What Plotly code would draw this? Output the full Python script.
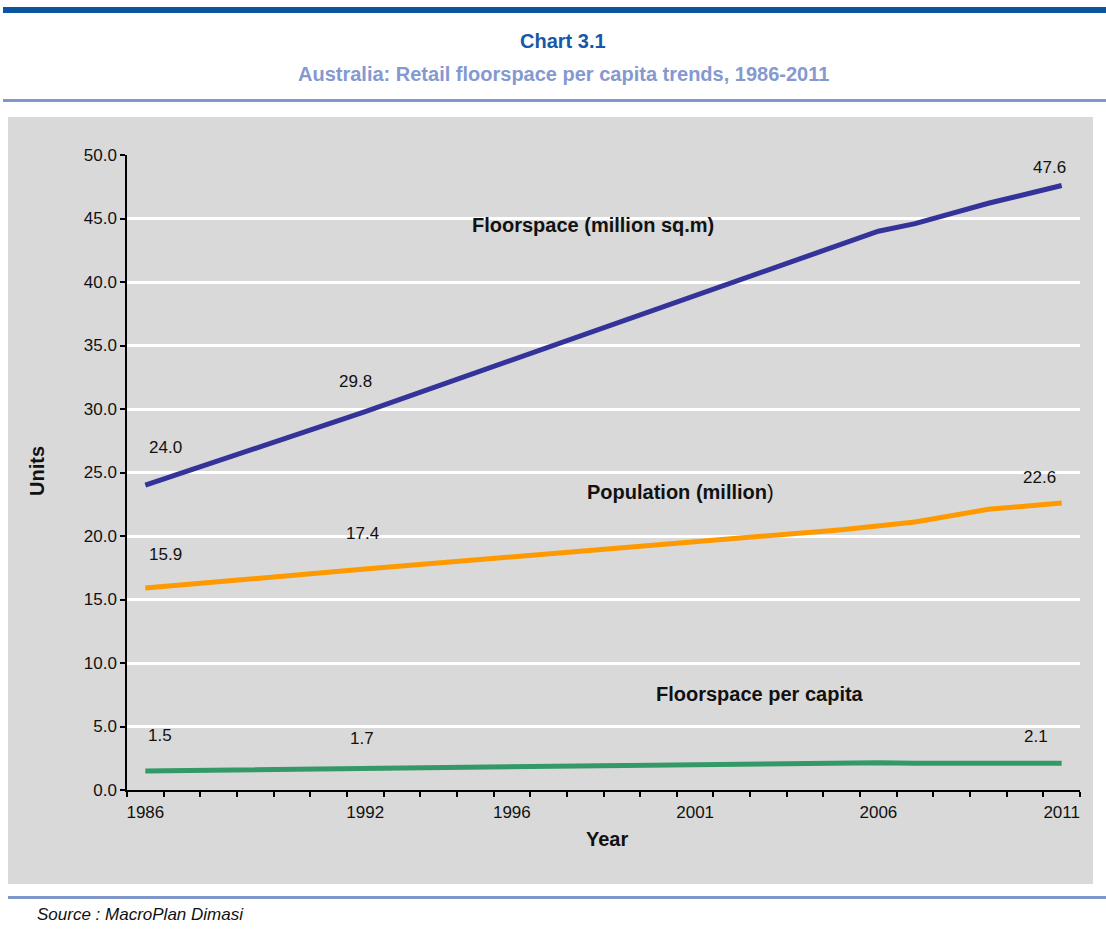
import plotly.graph_objects as go

# ---- data -------------------------------------------------------------
floor_years = [1986, 1992, 2006, 2007, 2009, 2011]
floorspace = [24.0, 29.8, 44.0, 44.6, 46.2, 47.6]          # million sq.m

pop_years = [1986, 1992, 2005, 2007, 2009, 2011]
population = [15.9, 17.4, 20.5, 21.1, 22.1, 22.6]          # million

pc_years = [1986, 1992, 2006, 2007, 2011]
per_capita = [1.5, 1.7, 2.15, 2.1, 2.1]                    # sq.m per person

label_years = [1986, 1992, 2011]
tick_years = [1986, 1992, 1996, 2001, 2006, 2011]
first_year, last_year = 1986, 2011

# ---- styling ----------------------------------------------------------
FONT = "Arial, 'Liberation Sans', sans-serif"
GREY = "#D9D9D9"
INK = "#111111"
W, H = 1106, 938
PL, PR, PT, PB = 127, 1080, 155, 790      # plot-area pixel box
BOLD_SIZE, TEXT_SIZE = 20, 17

series = [
    dict(name="Floorspace (million sq.m)", x=floor_years, y=floorspace, color="#333399",
         shifts=[(20, 38), (-10, 30), (-12, 18)],
         tag="<b>Floorspace (million sq.m)</b>", tag_px=(593, 225)),
    dict(name="Population (million)", x=pop_years, y=population, color="#FF9900",
         shifts=[(20, 34), (-3, 36), (-22, 25)],
         tag="<b>Population (million</b>)", tag_px=(680, 492)),
    dict(name="Floorspace per capita", x=pc_years, y=per_capita, color="#339966",
         shifts=[(15, 35), (-3, 30), (-26, 27)],
         tag="<b>Floorspace per capita</b>", tag_px=(760, 694)),
]


def px_x(px):
    return (px - PL) / (PR - PL)


def px_y(py):
    return (PB - py) / (PB - PT)


def note(px, py, text, size=BOLD_SIZE, color=INK, xanchor="center", **kw):
    return dict(x=px_x(px), y=px_y(py), xref="paper", yref="paper", text=text,
                showarrow=False, xanchor=xanchor, yanchor="middle",
                font=dict(family=FONT, size=size, color=color), **kw)


fig = go.Figure()
annotations = []

for s in series:
    fig.add_trace(go.Scatter(
        x=s["x"], y=s["y"], mode="lines", name=s["name"],
        line=dict(color=s["color"], width=5), showlegend=False,
        hoverinfo="x+y",
    ))
    for yr, (dx, dy) in zip(label_years, s["shifts"]):
        v = s["y"][s["x"].index(yr)]
        annotations.append(dict(
            x=yr, y=v, xref="x", yref="y", text=f"{v:.1f}", showarrow=False,
            xanchor="center", yanchor="middle",
            xshift=dx, yshift=dy, font=dict(family=FONT, size=TEXT_SIZE, color=INK),
        ))
    annotations.append(note(*s["tag_px"], s["tag"]))

# titles, axis captions and source line
annotations += [
    note(563, 41, "<b>Chart 3.1</b>", color="#1559A8"),
    note(563, 74, "<b>Australia: Retail floorspace per capita trends, 1986-2011</b>",
         color="#8599D0"),
    note(37, 471, "<b>Units</b>", textangle=-90),
    note(607, 839, "<b>Year</b>"),
    note(35, 914, "<i>Source : MacroPlan Dimasi</i>", size=TEXT_SIZE, xanchor="left"),
]

shapes = [
    # grey panel behind the chart
    dict(type="rect", xref="paper", yref="paper", x0=px_x(8), x1=px_x(1093),
         y0=px_y(884), y1=px_y(117), fillcolor=GREY, line_width=0, layer="below"),
    # header rules
    dict(type="rect", xref="paper", yref="paper", x0=px_x(3), x1=px_x(W),
         y0=px_y(13), y1=px_y(7), fillcolor="#0B55A0", line_width=0),
    dict(type="rect", xref="paper", yref="paper", x0=px_x(3), x1=px_x(W),
         y0=px_y(102), y1=px_y(99), fillcolor="#7F97CC", line_width=0),
    # footer rule
    dict(type="rect", xref="paper", yref="paper", x0=px_x(8), x1=px_x(W),
         y0=px_y(899), y1=px_y(896), fillcolor="#7F97CC", line_width=0),
]

fig.update_layout(
    width=W, height=H,
    margin=dict(l=PL, r=W - PR, t=PT, b=H - PB, pad=0),
    paper_bgcolor="white", plot_bgcolor=GREY,
    font=dict(family=FONT, size=TEXT_SIZE, color=INK),
    annotations=annotations, shapes=shapes,
    showlegend=False,
)

fig.update_xaxes(
    range=[first_year - 0.5, last_year + 0.5],
    tickvals=tick_years, ticktext=[str(y) for y in tick_years],
    ticks="outside", ticklen=6, tickcolor="rgba(0,0,0,0)",
    tickfont=dict(family=FONT, size=TEXT_SIZE, color=INK),
    showgrid=False, zeroline=False,
    showline=True, linecolor="black", linewidth=1.5,
    minor=dict(tickmode="linear", tick0=first_year - 0.5, dtick=1,
               ticks="outside", ticklen=5, tickcolor="black", tickwidth=1.5,
               showgrid=False),
)

fig.update_yaxes(
    range=[0, 50], dtick=5, tickformat=".1f",
    ticks="outside", ticklen=5, tickcolor="black", tickwidth=1.5,
    tickfont=dict(family=FONT, size=TEXT_SIZE, color=INK),
    showgrid=True, gridcolor="white", gridwidth=2.5,
    zeroline=False, showline=True, linecolor="black", linewidth=1.5,
)

fig.write_html("out.html")
